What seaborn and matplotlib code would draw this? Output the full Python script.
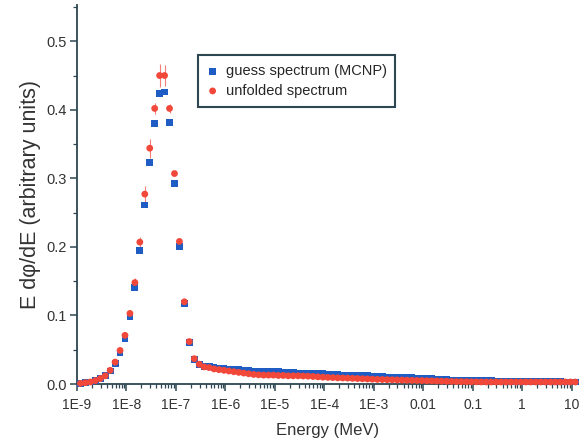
import numpy as np
import pandas as pd
import matplotlib
matplotlib.use("Agg")
import matplotlib.pyplot as plt
import matplotlib.ticker as mticker
import seaborn as sns

# log10 of energy (MeV) for every bin centre
LOG_ENERGY = [
    -8.93, -8.83, -8.73, -8.63, -8.53, -8.43, -8.33, -8.23, -8.13, -8.03,
    -7.93, -7.83, -7.73, -7.63, -7.53, -7.43, -7.33, -7.23, -7.13, -7.03,
    -6.93, -6.83, -6.73, -6.63, -6.53, -6.43, -6.33, -6.23, -6.13, -6.03,
    -5.93, -5.83, -5.73, -5.63, -5.53, -5.43, -5.33, -5.23, -5.13, -5.03,
    -4.93, -4.83, -4.73, -4.63, -4.53, -4.43, -4.33, -4.23, -4.13, -4.03,
    -3.93, -3.83, -3.73, -3.63, -3.53, -3.43, -3.33, -3.23, -3.13, -3.03,
    -2.93, -2.83, -2.73, -2.63, -2.53, -2.43, -2.33, -2.23, -2.13, -2.03,
    -1.93, -1.83, -1.73, -1.63, -1.53, -1.43, -1.33, -1.23, -1.13, -1.03,
    -0.93, -0.83, -0.73, -0.63, -0.53, -0.43, -0.33, -0.23, -0.13, -0.03,
    0.07, 0.17, 0.27, 0.37, 0.47, 0.57, 0.67, 0.77, 0.87, 0.97,
    1.07,
]

GUESS = [
    0.001, 0.002, 0.003, 0.005, 0.008, 0.012, 0.019, 0.030, 0.046, 0.066,
    0.099, 0.141, 0.195, 0.261, 0.323, 0.380, 0.424, 0.426, 0.382, 0.292,
    0.201, 0.117, 0.060, 0.036, 0.029, 0.026, 0.025, 0.024, 0.023, 0.023,
    0.022, 0.021, 0.021, 0.020, 0.020, 0.019, 0.019, 0.019, 0.018, 0.018,
    0.018, 0.017, 0.017, 0.017, 0.016, 0.016, 0.016, 0.015, 0.015, 0.015,
    0.014, 0.014, 0.014, 0.013, 0.013, 0.013, 0.012, 0.012, 0.012, 0.011,
    0.011, 0.011, 0.010, 0.010, 0.010, 0.0095, 0.009, 0.009, 0.0085, 0.008,
    0.008, 0.0075, 0.007, 0.007, 0.0065, 0.006, 0.006, 0.0055, 0.0055, 0.005,
    0.005, 0.005, 0.0048, 0.0046, 0.0045, 0.0044, 0.0042, 0.0041, 0.004, 0.0039,
    0.0038, 0.0037, 0.0036, 0.0035, 0.0034, 0.0034, 0.0033, 0.0032, 0.0031, 0.003,
    0.003,
]

UNFOLDED = [
    0.001, 0.002, 0.003, 0.005, 0.008, 0.012, 0.020, 0.032, 0.049, 0.071,
    0.103, 0.148, 0.207, 0.277, 0.344, 0.402, 0.450, 0.450, 0.402, 0.307,
    0.208, 0.120, 0.062, 0.037, 0.029, 0.025, 0.024, 0.022, 0.021, 0.020,
    0.019, 0.018, 0.017, 0.016, 0.015, 0.014, 0.0135, 0.013, 0.013, 0.013,
    0.0125, 0.0125, 0.012, 0.012, 0.012, 0.0117, 0.0115, 0.011, 0.0105, 0.010,
    0.0097, 0.0094, 0.009, 0.0088, 0.0086, 0.0083, 0.008, 0.0077, 0.0074, 0.0071,
    0.0068, 0.0066, 0.0064, 0.0062, 0.006, 0.0058, 0.0056, 0.0054, 0.0052, 0.005,
    0.0048, 0.0046, 0.0044, 0.0042, 0.004, 0.0038, 0.0036, 0.0035, 0.0034, 0.0033,
    0.0032, 0.0031, 0.003, 0.003, 0.003, 0.003, 0.003, 0.003, 0.003, 0.003,
    0.003, 0.003, 0.003, 0.003, 0.003, 0.003, 0.003, 0.003, 0.003, 0.003,
    0.003,
]

# error on unfolded spectrum (only noticeable around the peak)
UNFOLDED_ERR = [
    0.0, 0.0, 0.0, 0.0, 0.0, 0.0, 0.001, 0.002, 0.003, 0.004,
    0.005, 0.006, 0.008, 0.012, 0.014, 0.008, 0.017, 0.015, 0.006, 0.004,
    0.004, 0.003, 0.002, 0.001, 0.001, 0.001, 0.0, 0.0, 0.0, 0.0,
] + [0.0] * 71

df = pd.DataFrame({
    "energy": np.power(10.0, LOG_ENERGY),
    "guess": GUESS,
    "unfolded": UNFOLDED,
    "err": UNFOLDED_ERR,
})

sns.set_style("ticks")
plt.rcParams["font.family"] = ["Liberation Sans", "DejaVu Sans"]

BLUE = "#1f5cc4"
RED = "#f2483a"
SPINE = "#2e4651"

fig = plt.figure(figsize=(5.79, 4.45), dpi=100)
ax = fig.add_axes([0.133, 0.137, 0.867, 0.852])

ax.errorbar(df["energy"], df["unfolded"], yerr=df["err"], fmt="none",
            ecolor=RED, elinewidth=0.8, alpha=0.7, zorder=2)
sns.scatterplot(data=df, x="energy", y="guess", ax=ax, marker="s", s=24,
                color=BLUE, edgecolor="none", label="guess spectrum (MCNP)",
                zorder=3, clip_on=False)
sns.scatterplot(data=df, x="energy", y="unfolded", ax=ax, marker="o", s=24,
                color=RED, edgecolor="none", label="unfolded spectrum",
                zorder=4, clip_on=False)

ax.set_xscale("log")
ax.set_xlim(1e-9, 14)
ax.set_ylim(0, 0.553)

major_x = [1e-9, 1e-8, 1e-7, 1e-6, 1e-5, 1e-4, 1e-3, 1e-2, 1e-1, 1, 10]
major_lbl = ["1E-9", "1E-8", "1E-7", "1E-6", "1E-5", "1E-4", "1E-3", "0.01", "0.1", "1", "10"]
ax.set_xticks(major_x)
ax.set_xticklabels(major_lbl)
ax.xaxis.set_minor_locator(mticker.LogLocator(base=10, subs=np.arange(2, 10), numticks=30))
ax.xaxis.set_minor_formatter(mticker.NullFormatter())
ax.yaxis.set_major_locator(mticker.MultipleLocator(0.1))
ax.yaxis.set_minor_locator(mticker.MultipleLocator(0.05))
ax.yaxis.set_major_formatter(mticker.FormatStrFormatter("%.1f"))

sns.despine(ax=ax)
for s in ["left", "bottom"]:
    ax.spines[s].set_color(SPINE)
    ax.spines[s].set_linewidth(1.3)
ax.tick_params(which="major", direction="out", length=5, width=1.1,
               color=SPINE, labelsize=10, labelcolor="#333333", pad=2.5)
ax.tick_params(axis="x", pad=5)
ax.tick_params(axis="y", labelsize=10.5)
ax.tick_params(which="minor", direction="out", length=3, width=0.9, color=SPINE)

ax.set_xlabel("Energy (MeV)", fontsize=12, color="#333333", labelpad=8)
ax.set_ylabel("E d\u03c6/dE (arbitrary units)", fontsize=15.5, color="#333333", labelpad=4)

leg = ax.legend(loc="upper left", bbox_to_anchor=(0.342, 0.876),
                bbox_transform=fig.transFigure, fontsize=10.5, frameon=True,
                fancybox=False, framealpha=1, edgecolor=SPINE,
                borderaxespad=0, handlelength=0.8, handletextpad=0.5,
                borderpad=0.6, labelspacing=0.4, markerscale=1.0)
leg.get_frame().set_linewidth(1.5)

fig.savefig("out.png", dpi=100)
